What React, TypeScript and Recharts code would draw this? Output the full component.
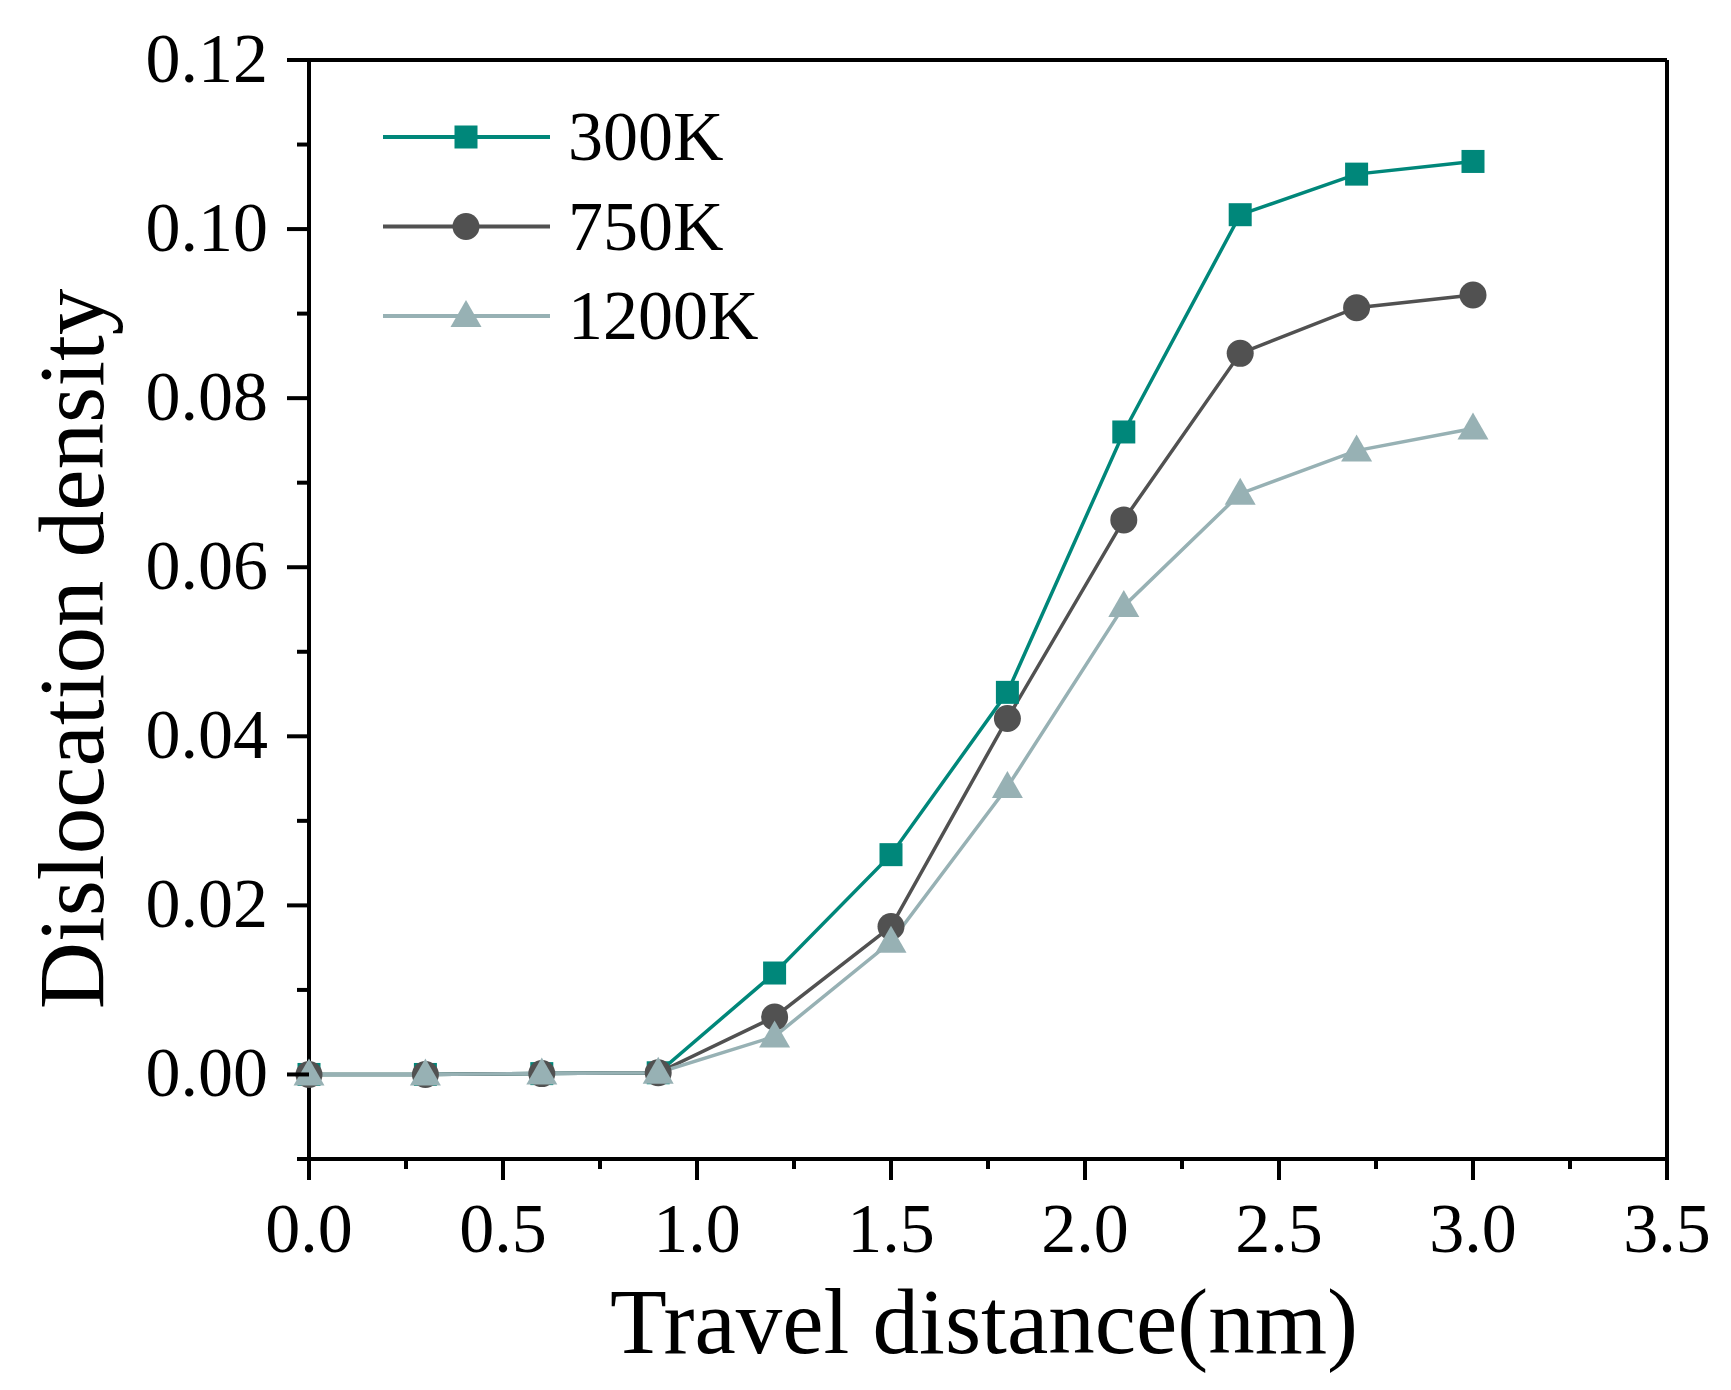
import React from "react"
import { LineChart, Line, XAxis, YAxis, ReferenceLine, Legend } from "recharts"

const distance = [0, 0.3, 0.6, 0.9, 1.2, 1.5, 1.8, 2.1, 2.4, 2.7, 3.0]
const k300 = [0, 0, 0.0001, 0.0002, 0.012, 0.026, 0.0452, 0.076, 0.1017, 0.1065, 0.108]
const k750 = [0, 0, 0.0001, 0.0002, 0.0068, 0.0175, 0.0421, 0.0656, 0.0853, 0.0907, 0.0922]
const k1200 = [0, 0, 0.0001, 0.0002, 0.0045, 0.0157, 0.034, 0.0554, 0.0687, 0.0738, 0.0764]

const seriesNames = ["300K", "750K", "1200K"]
const xTicks = [0, 0.25, 0.5, 0.75, 1, 1.25, 1.5, 1.75, 2, 2.25, 2.5, 2.75, 3, 3.25, 3.5]
const yTicks = [-0.01, 0, 0.01, 0.02, 0.03, 0.04, 0.05, 0.06, 0.07, 0.08, 0.09, 0.1, 0.11, 0.12]

const FONT = "'Liberation Serif', 'Times New Roman', serif"
const TEAL = "#00877A"
const DARK = "#515151"
const LIGHT = "#97B1B4"

const chartData = distance.map((d, i) => ({
  d,
  k300: k300[i],
  k750: k750[i],
  k1200: k1200[i],
}))

const marker = (shape: string, color: string, cx: number, cy: number, key?: any) => {
  if (shape === "square")
    return <rect key={key} x={cx - 11.5} y={cy - 11.5} width={23} height={23} fill={color} />
  if (shape === "circle") return <circle key={key} cx={cx} cy={cy} r={13.5} fill={color} />
  return (
    <polygon
      key={key}
      points={`${cx},${cy - 16} ${cx - 15.5},${cy + 11} ${cx + 15.5},${cy + 11}`}
      fill={color}
    />
  )
}

const shapes: Record<string, string> = { "300K": "square", "750K": "circle", "1200K": "triangle" }

function YTick(props: any) {
  const { x, y, payload } = props
  const v = payload.value
  const major = v >= 0 && Math.round(v * 100) % 2 === 0
  return (
    <g>
      <line x1={x - (major ? 22 : 12)} x2={x} y1={y} y2={y} stroke="#000" strokeWidth={4} />
      {major && (
        <text x={x - 41} y={y + 22} textAnchor="end" fontFamily={FONT} fontSize={70} fill="#000">
          {v.toFixed(2)}
        </text>
      )}
    </g>
  )
}

function XTick(props: any) {
  const { x, y, payload } = props
  const v = payload.value
  const major = Math.abs(v * 2 - Math.round(v * 2)) < 1e-6
  return (
    <g>
      <line x1={x} x2={x} y1={y} y2={y + (major ? 21 : 10)} stroke="#000" strokeWidth={4} />
      {major && (
        <text x={x} y={y + 93} textAnchor="middle" fontFamily={FONT} fontSize={70} fill="#000">
          {v.toFixed(1)}
        </text>
      )}
    </g>
  )
}

function LegendBox(props: any) {
  const items = (props.payload || [])
    .slice()
    .sort((a: any, b: any) => seriesNames.indexOf(a.value) - seriesNames.indexOf(b.value))
  return (
    <svg width={450} height={290}>
      {items.map((it: any, i: number) => {
        const cy = 42 + i * 89.5
        return (
          <g key={it.value}>
            <line x1={8} x2={175} y1={cy} y2={cy} stroke={it.color} strokeWidth={4} />
            {marker(shapes[it.value], it.color, 91, cy)}
            <text x={193} y={cy + 23} fontFamily={FONT} fontSize={70} fill="#000">
              {it.value}
            </text>
          </g>
        )
      })}
    </svg>
  )
}

export default function App() {
  return (
    <div style={{ position: "absolute", left: 0, top: 0, background: "#fff" }}>
      <LineChart
        width={1731}
        height={1390}
        data={chartData}
        margin={{ top: 60, right: 64, bottom: 0, left: 0 }}
      >
        <XAxis
          dataKey="d"
          type="number"
          domain={[0, 3.5]}
          ticks={xTicks}
          interval={0}
          height={231}
          tickSize={0}
          tickMargin={0}
          tickLine={false}
          axisLine={{ stroke: "#000", strokeWidth: 4 }}
          tick={<XTick />}
          label={{
            content: (p: any) => (
              <text
                x={p.viewBox.x + p.viewBox.width / 2 - 4}
                y={p.viewBox.y + 194}
                textAnchor="middle"
                fontFamily={FONT}
                fontSize={93}
                fill="#000"
              >
                Travel distance(nm)
              </text>
            ),
          }}
        />
        <YAxis
          type="number"
          domain={[-0.01, 0.12]}
          ticks={yTicks}
          interval={0}
          width={309}
          tickSize={0}
          tickMargin={0}
          tickLine={false}
          axisLine={{ stroke: "#000", strokeWidth: 4 }}
          tick={<YTick />}
          label={{
            content: () => (
              <text
                x={103}
                y={649}
                transform="rotate(-90, 103, 649)"
                textAnchor="middle"
                fontFamily={FONT}
                fontSize={93}
                fill="#000"
              >
                Dislocation density
              </text>
            ),
          }}
        />
        <ReferenceLine y={0.12} stroke="#000" strokeWidth={4} />
        <ReferenceLine x={3.5} stroke="#000" strokeWidth={4} />
        <Legend
          layout="horizontal"
          verticalAlign="middle"
          align="center"
          content={<LegendBox />}
          wrapperStyle={{ left: 375, top: 95, width: 450, height: 290 }}
        />
        <Line
          dataKey="k300"
          name="300K"
          stroke={TEAL}
          strokeWidth={3.5}
          isAnimationActive={false}
          dot={(p: any) => marker("square", TEAL, p.cx, p.cy, p.index)}
        />
        <Line
          dataKey="k750"
          name="750K"
          stroke={DARK}
          strokeWidth={3.5}
          isAnimationActive={false}
          dot={(p: any) => marker("circle", DARK, p.cx, p.cy, p.index)}
        />
        <Line
          dataKey="k1200"
          name="1200K"
          stroke={LIGHT}
          strokeWidth={3.5}
          isAnimationActive={false}
          dot={(p: any) => marker("triangle", LIGHT, p.cx, p.cy, p.index)}
        />
      </LineChart>
    </div>
  )
}
